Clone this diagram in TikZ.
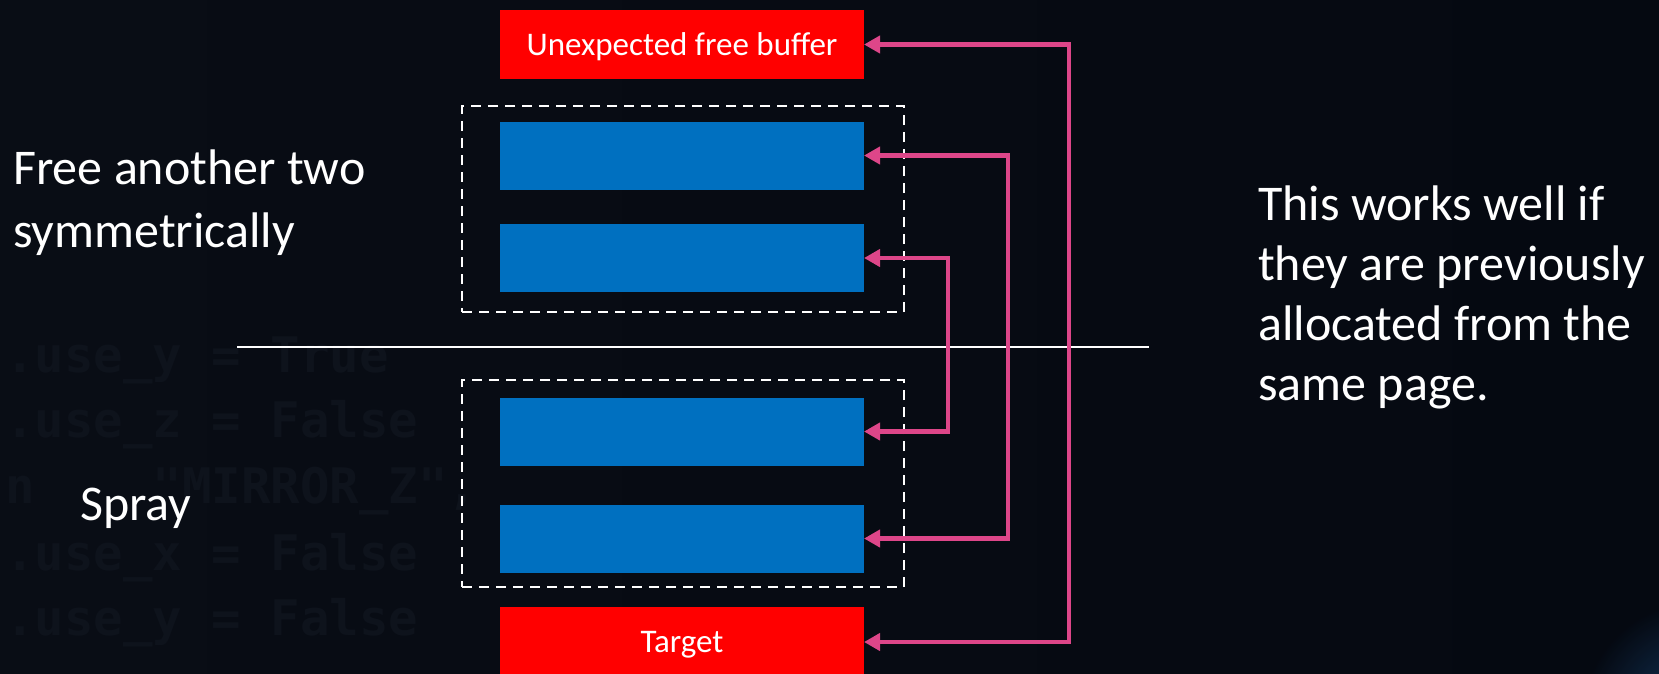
\documentclass[tikz,border=0pt]{standalone}
\usepackage{fontspec}
\setmainfont{Carlito}
\newfontfamily\codefont{DejaVu Sans Mono}
\usetikzlibrary{arrows.meta}
\definecolor{bgdark}{RGB}{5,9,17}
\definecolor{bgleft}{RGB}{9,13,21}
\definecolor{glow}{RGB}{25,70,120}
\definecolor{codegray}{RGB}{14,19,28}
\definecolor{boxred}{RGB}{255,0,0}
\definecolor{boxblue}{RGB}{0,112,192}
\definecolor{linkpink}{RGB}{221,70,137}
\begin{document}
\begin{tikzpicture}[x=1pt,y=-1pt,
  box/.style={minimum width=364pt, inner sep=0pt, outer sep=0pt},
  redbox/.style={box, fill=boxred, text=white, font=\fontsize{33}{40}\selectfont, text height=21pt, text depth=0pt},
  bluebox/.style={box, fill=boxblue, minimum height=68pt},
  groupbox/.style={draw=white, line width=2.5pt, dash pattern=on 10pt off 7pt, inner sep=0pt, outer sep=0pt, minimum width=442pt},
  link/.style={draw=linkpink, line width=4.5pt, {Triangle[length=16pt,width=17pt]}-{Triangle[length=16pt,width=17pt]}},
  label/.style={text=white, inner sep=0pt, anchor=base west, align=left},
  code/.style={text=codegray, inner sep=0pt, anchor=base west, font=\codefont\bfseries\fontsize{49}{66}\selectfont}
]
\useasboundingbox (0,0) rectangle (1659,673);
% background
\begin{scope}
\clip (0,0) rectangle (1659,673);
\shade[left color=bgleft, right color=bgdark] (0,0) rectangle (1659,673);
\shade[inner color=glow, outer color=bgdark, opacity=0.8] (1700,720) circle (120);
% faint background code
\node[code] (c1) at (5,372) {.use\_y = True};
\node[code] (c2) at (5,437) {.use\_z = False};
\node[code] (c3) at (5,503) {n~~~~"MIRROR\_Z",};
\node[code] (c4) at (5,570) {.use\_x = False};
\node[code] (c5) at (5,635) {.use\_y = False};
\end{scope}

% boxes
\node[redbox, minimum height=69pt] (unexp) at (682,44.5) {Unexpected free buffer};
\node[groupbox, minimum height=206pt] (grpA) at (683,209) {};
\node[bluebox] (b1) at (682,155.5) {};
\node[bluebox] (b2) at (682,258) {};
\coordinate (sepL) at (237,347);
\coordinate (sepR) at (1149,347);
\draw[white, line width=2.5pt] (sepL) -- (sepR);
\node[groupbox, minimum height=207pt] (grpB) at (683,483.5) {};
\node[bluebox] (b3) at (682,431.5) {};
\node[bluebox] (b4) at (682,538.5) {};
\node[redbox, minimum height=70pt] (target) at (682,642) {Target};

% connectors
\coordinate (xo) at (1069,0);
\coordinate (xm) at (1008,0);
\coordinate (xi) at (948,0);
\draw[link] (unexp.east) -- (unexp.east -| xo) -- (target.east -| xo) -- (target.east);
\draw[link] (b1.east) -- (b1.east -| xm) -- (b4.east -| xm) -- (b4.east);
\draw[link] (b2.east) -- (b2.east -| xi) -- (b3.east -| xi) -- (b3.east);

% labels (base anchor = baseline of last line)
\node[label, font=\fontsize{50}{63}\selectfont] (free) at (13,247) {Free another two\\symmetrically};
\node[label, font=\fontsize{50}{63}\selectfont] (spray) at (80,520) {Spray};
\node[label, font=\fontsize{50}{60}\selectfont] (note) at (1258,400) {This works well if\\they are previously\\allocated from the\\same page.};
\end{tikzpicture}
\end{document}
